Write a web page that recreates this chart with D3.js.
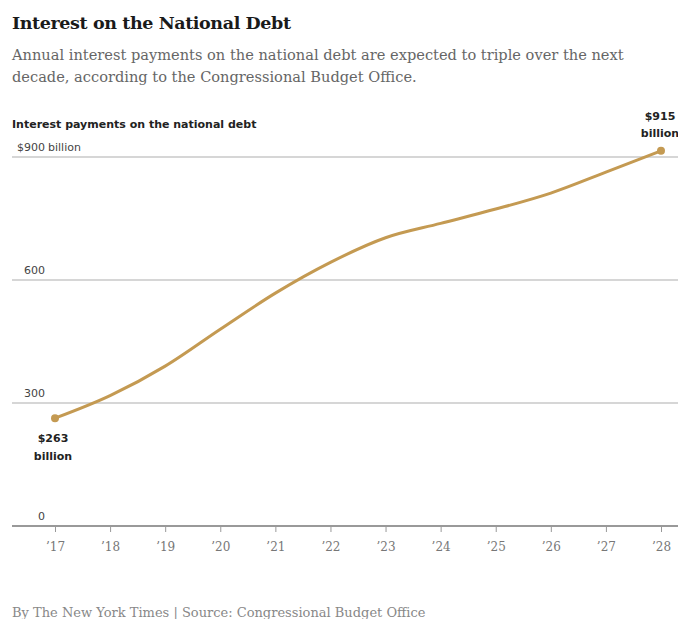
<!DOCTYPE html>
<html lang="en">
<head>
   <meta charset="UTF-8">
   <title>Interest on the National Debt</title>
   <style>
      body { margin: 0; background: #fff; }
      .title { font-family: 'DejaVu Serif', serif; font-weight: bold; font-size: 17.5px; fill: #1a1a1a; letter-spacing: -0.4px; }
      .sub { font-family: 'DejaVu Serif', serif; font-size: 14.6px; fill: #666; }
      .label { font-family: 'DejaVu Sans', sans-serif; font-size: 11px; fill: #444; }
      .bold { font-weight: bold; fill: #222; font-size: 11px; }
      .tick text { font-family: 'DejaVu Serif', serif; font-size: 12px; fill: #777; }
      .foot { font-family: 'DejaVu Serif', serif; font-size: 13px; fill: #888; }
   </style>
   <script src="https://cdn.jsdelivr.net/npm/d3@7"></script>
</head>
<body>
<svg id="chart" width="678" height="619"></svg>
<script>
   // data
   const years = [2017, 2018, 2019, 2020, 2021, 2022, 2023, 2024, 2025, 2026, 2027, 2028]
   const payments = [263, 318, 390, 480, 568, 643, 703, 738, 773, 812, 863, 915]
   const yTicks = [0, 300, 600, 900]

   const svg = d3.select('#chart')

   // texts
   svg.append('text').attr('class', 'title').attr('x', 12).attr('y', 29)
      .text('Interest on the National Debt')
   svg.append('text').attr('class', 'sub').attr('x', 12).attr('y', 60)
      .text('Annual interest payments on the national debt are expected to triple over the next')
   svg.append('text').attr('class', 'sub').attr('x', 12).attr('y', 82)
      .text('decade, according to the Congressional Budget Office.')
   svg.append('text').attr('class', 'label bold').attr('x', 12).attr('y', 128)
      .text('Interest payments on the national debt')
   svg.append('text').attr('class', 'foot').attr('x', 12).attr('y', 617)
      .text('By The New York Times | Source: Congressional Budget Office')

   // scales
   const x = d3.scaleLinear().domain([2017, 2028]).range([55, 661])
   const y = d3.scaleLinear().domain([0, 900]).range([526, 157])

   // gridlines
   svg.append('g').selectAll('line')
      .data(yTicks.filter(d => d > 0))
      .join('line')
      .attr('x1', 12).attr('x2', 678)
      .attr('y1', d => y(d)).attr('y2', d => y(d))
      .attr('stroke', '#c8c8c8').attr('stroke-width', 1.5)

   // y labels
   const yl = svg.append('g')
   yl.selectAll('text')
      .data(yTicks)
      .join('text')
      .attr('class', 'label')
      .attr('x', 45)
      .attr('y', d => y(d) - 6)
      .attr('text-anchor', 'end')
      .text(d => d === 900 ? '$900' : d)
   yl.append('text').attr('class', 'label').attr('x', 48).attr('y', y(900) - 6).text('billion')

   // x axis
   const xAxis = d3.axisBottom(x)
      .tickValues(years)
      .tickSize(6)
      .tickPadding(10)
      .tickFormat(d => '\u2019' + String(d).slice(2))
   const xg = svg.append('g').attr('transform', `translate(0, ${y(0)})`).call(xAxis)
   xg.select('.domain').remove()
   xg.selectAll('.tick line').attr('stroke', '#999')
   svg.append('line')
      .attr('x1', 12).attr('x2', 678)
      .attr('y1', y(0)).attr('y2', y(0))
      .attr('stroke', '#999').attr('stroke-width', 2)

   // line
   const color = '#c49a52'
   const line = d3.line()
      .x((d, i) => x(years[i]))
      .y(d => y(d))
      .curve(d3.curveMonotoneX)
   svg.append('path')
      .datum(payments)
      .attr('d', line)
      .attr('fill', 'none')
      .attr('stroke', color)
      .attr('stroke-width', 3)

   const ends = [0, payments.length - 1]
   svg.selectAll('circle.end')
      .data(ends)
      .join('circle')
      .attr('class', 'end')
      .attr('cx', i => x(years[i]))
      .attr('cy', i => y(payments[i]))
      .attr('r', 4)
      .attr('fill', color)

   // end annotations
   const first = svg.append('text').attr('class', 'label bold').attr('text-anchor', 'middle')
   first.append('tspan').attr('x', x(years[0]) - 2).attr('y', y(payments[0]) + 24).text('$' + payments[0])
   first.append('tspan').attr('x', x(years[0]) - 2).attr('y', y(payments[0]) + 42).text('billion')

   const last = svg.append('text').attr('class', 'label bold').attr('text-anchor', 'middle')
   const li = payments.length - 1
   last.append('tspan').attr('x', x(years[li]) - 1).attr('y', y(payments[li]) - 31).text('$' + payments[li])
   last.append('tspan').attr('x', x(years[li]) - 1).attr('y', y(payments[li]) - 14).text('billion')
</script>
</body>
</html>
